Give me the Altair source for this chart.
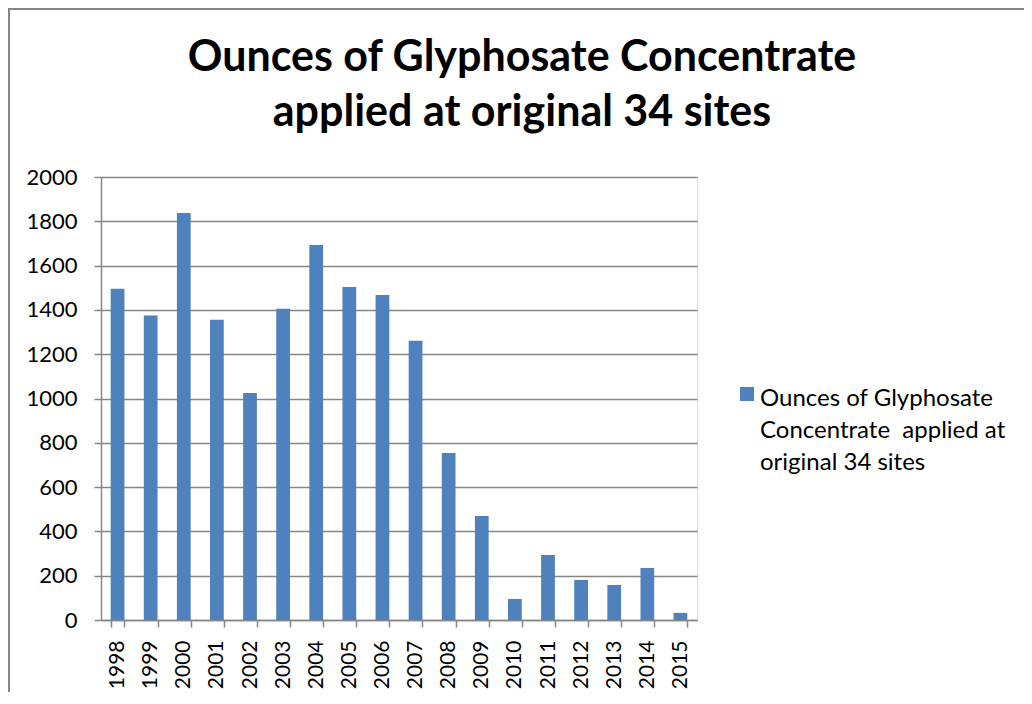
import altair as alt
import pandas as pd

YEARS = ["1998", "1999", "2000", "2001", "2002", "2003", "2004", "2005", "2006",
         "2007", "2008", "2009", "2010", "2011", "2012", "2013", "2014", "2015"]
OUNCES = [1495, 1375, 1838, 1355, 1025, 1405, 1693, 1503, 1467,
          1261, 754, 470, 95, 293, 181, 158, 235, 32]
SERIES = "Ounces of Glyphosate Concentrate  applied at original 34 sites"
LEGEND_LINES = ["Ounces of Glyphosate", "Concentrate \u00a0applied at", "original 34 sites"]
TITLE_LINES = ["Ounces of Glyphosate Concentrate", "applied at original 34 sites"]
Y_TICKS = [0, 200, 400, 600, 800, 1000, 1200, 1400, 1600, 1800, 2000]

df = pd.DataFrame({"year": YEARS, "ounces": OUNCES, "series": [SERIES] * len(YEARS)})

FONT = "Lato"
GRID = "#868686"
BLUE = "#4F81BD"

bars = alt.Chart(df).mark_bar().encode(
    x=alt.X(
        "year:N", sort=YEARS,
        scale=alt.Scale(paddingInner=0.585, paddingOuter=0.2925),
        axis=alt.Axis(
            title=None, labelAngle=270, labelAlign="right", labelBaseline="middle",
            labelFont=FONT, labelFontSize=21, labelColor="black", labelPadding=13,
            tickBand="extent", tickSize=7, tickColor=GRID, tickWidth=1.5,
            domainColor=GRID, domainWidth=1.5, grid=False,
        ),
    ),
    y=alt.Y(
        "ounces:Q",
        scale=alt.Scale(domain=[0, 2000], nice=False),
        axis=alt.Axis(
            title=None, values=Y_TICKS, format="d", labelFont=FONT, labelFontSize=22,
            labelColor="black", labelPadding=17, tickSize=7, tickColor=GRID,
            tickWidth=1.5, domainColor=GRID, domainWidth=1.5,
            grid=True, gridColor=GRID, gridWidth=1.5,
        ),
    ),
    color=alt.Color(
        "series:N",
        scale=alt.Scale(range=[BLUE]),
        legend=alt.Legend(
            orient="none", legendX=639, legendY=210, padding=0,
            title=LEGEND_LINES, titleOrient="right", titleFont=FONT,
            titleFontSize=24, titleFontWeight="normal", titleColor="black",
            titleLineHeight=32, titlePadding=6, titleLimit=400,
            titleBaseline="top", titleAnchor="start",
            labelExpr="''", labelOffset=0,
            symbolType="square", symbolSize=196, symbolStrokeWidth=0,
            symbolOpacity=1,
        ),
    ),
)

frame = alt.Chart(alt.Data(values=[{"k": 1}])).mark_rect(
    fill="transparent", stroke=GRID, strokeWidth=2
).encode(
    x=alt.value(-92), x2=alt.value(1200), y=alt.value(-168), y2=alt.value(1200)
)

chart = alt.layer(frame, bars).properties(
    width=596, height=443,
    autosize=alt.AutoSizeParams(type="none"),
    padding={"left": 93, "top": 169, "right": 327, "bottom": 72},
    title=alt.TitleParams(
        text=TITLE_LINES, font=FONT, fontSize=43, fontWeight="bold",
        color="black", lineHeight=55, anchor="middle", frame="group",
        baseline="bottom", dx=123, offset=-170,
    ),
).configure_view(stroke=None).configure(background="white")

chart.save("out.html", embed_options={"renderer": "svg", "actions": False})
